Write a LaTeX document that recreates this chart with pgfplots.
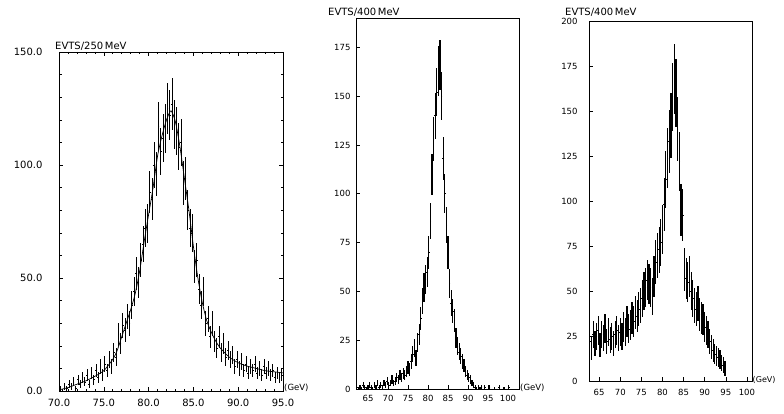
\documentclass[border=0pt]{standalone}
\usepackage{fontspec}
\setmainfont{DejaVu Sans}
\usepackage{pgfplots}
\usepackage{pgfplotstable}
\pgfplotsset{compat=1.18}

% panel 1: 250 MeV bins, x / counts / error
\pgfplotstableread[row sep=\\]{
x y e \\
70.125 1 1 \\ 70.375 0 1 \\ 70.625 2 1.4 \\ 70.875 1 1 \\ 71.125 3 1.7 \\
71.375 2 1.4 \\ 71.625 4 2 \\ 71.875 1 1 \\ 72.125 5 2.2 \\ 72.375 3 1.7 \\
72.625 6 2.4 \\ 72.875 4 2 \\ 73.125 7 2.6 \\ 73.375 3 1.7 \\ 73.625 8 2.8 \\
73.875 5 2.2 \\ 74.125 9 3 \\ 74.375 6 2.4 \\ 74.625 11 3.3 \\ 74.875 7 2.6 \\
75.125 12 3.5 \\ 75.375 9 3 \\ 75.625 14 3.7 \\ 75.875 11 3.3 \\ 76.125 17 4.1 \\
76.375 15 3.9 \\ 76.625 25 5 \\ 76.875 21 4.6 \\ 77.125 29 5.4 \\ 77.375 27 5.2 \\
77.625 33 5.7 \\ 77.875 30 5.5 \\ 78.125 38 6.2 \\ 78.375 44 6.6 \\ 78.625 52 7.2 \\
78.875 48 6.9 \\ 79.125 58 7.6 \\ 79.375 65 8.1 \\ 79.625 72 8.5 \\ 79.875 74 8.6 \\
80.125 88 9.4 \\ 80.375 85 9.2 \\ 80.625 100 10 \\ 80.875 96 9.8 \\ 81.125 117 10.8 \\
81.375 106 10.3 \\ 81.625 112 10.6 \\ 81.875 116 10.8 \\ 82.125 125 11.2 \\ 82.375 122 11 \\
82.625 127 11.3 \\ 82.875 118 10.9 \\ 83.125 115 10.7 \\ 83.375 108 10.4 \\ 83.625 110 10.5 \\
83.875 92 9.6 \\ 84.125 94 9.7 \\ 84.375 80 8.9 \\ 84.625 72 8.5 \\ 84.875 70 8.4 \\
85.125 55 7.4 \\ 85.375 58 7.6 \\ 85.625 45 6.7 \\ 85.875 38 6.2 \\ 86.125 44 6.6 \\
86.375 30 5.5 \\ 86.625 32 5.7 \\ 86.875 24 4.9 \\ 87.125 30 5.5 \\ 87.375 22 4.7 \\
87.625 19 4.4 \\ 87.875 24 4.9 \\ 88.125 17 4.1 \\ 88.375 21 4.6 \\ 88.625 15 3.9 \\
88.875 18 4.2 \\ 89.125 14 3.7 \\ 89.375 16 4 \\ 89.625 11 3.3 \\ 89.875 14 3.7 \\
90.125 10 3.2 \\ 90.375 13 3.6 \\ 90.625 9 3 \\ 90.875 12 3.5 \\ 91.125 8 2.8 \\
91.375 11 3.3 \\ 91.625 9 3 \\ 91.875 12 3.5 \\ 92.125 8 2.8 \\ 92.375 10 3.2 \\
92.625 7 2.6 \\ 92.875 11 3.3 \\ 93.125 8 2.8 \\ 93.375 10 3.2 \\ 93.625 7 2.6 \\
93.875 9 3 \\ 94.125 6 2.4 \\ 94.375 8 2.8 \\ 94.625 6 2.4 \\ 94.875 7 2.6 \\
}\histA

% panel 2: 400 MeV bins
\pgfplotstableread[row sep=\\]{
x y e \\
62.2 1 1 \\ 62.6 0 1 \\ 63.0 1 1 \\ 63.4 0 1 \\ 63.8 2 1.4 \\
64.2 1 1 \\ 64.6 0 1 \\ 65.0 1 1 \\ 65.4 2 1.4 \\ 65.8 1 1 \\
66.2 0 1 \\ 66.6 2 1.4 \\ 67.0 1 1 \\ 67.4 3 1.7 \\ 67.8 1 1 \\
68.2 2 1.4 \\ 68.6 1 1 \\ 69.0 3 1.7 \\ 69.4 2 1.4 \\ 69.8 4 2 \\
70.2 2 1.4 \\ 70.6 3 1.7 \\ 71.0 5 2.2 \\ 71.4 3 1.7 \\ 71.8 4 2 \\
72.2 6 2.4 \\ 72.6 5 2.2 \\ 73.0 7 2.6 \\ 73.4 6 2.4 \\ 73.8 8 2.8 \\
74.2 7 2.6 \\ 74.6 9 3 \\ 75.0 11 3.3 \\ 75.4 10 3.2 \\ 75.8 14 3.7 \\
76.2 18 4.2 \\ 76.6 21 4.6 \\ 77.0 16 4 \\ 77.4 24 4.9 \\ 77.8 28 5.3 \\
78.2 36 6 \\ 78.6 45 6.7 \\ 79.0 52 7.2 \\ 79.4 56 7.5 \\ 79.8 60 7.7 \\
80.2 70 8.4 \\ 80.6 86 9.3 \\ 81.0 110 10.5 \\ 81.4 128 11.3 \\ 81.8 140 11.8 \\
82.2 152 12.3 \\ 82.6 163 12.8 \\ 83.0 166 12.9 \\ 83.4 150 12.2 \\ 83.8 118 10.9 \\
84.2 100 10 \\ 84.6 84 9.2 \\ 85.0 70 8.4 \\ 85.4 54 7.3 \\ 85.8 44 6.6 \\
86.2 40 6.3 \\ 86.6 35 5.9 \\ 87.0 26 5.1 \\ 87.4 22 4.7 \\ 87.8 19 4.4 \\
88.2 17 4.1 \\ 88.6 14 3.7 \\ 89.0 12 3.5 \\ 89.4 9 3 \\ 89.8 7 2.6 \\
90.2 6 2.4 \\ 90.6 5 2.2 \\ 91.0 3 1.7 \\ 91.4 2 1.4 \\ 91.8 1 1 \\
92.2 0 1 \\ 92.6 1 1 \\ 93.0 0 1 \\ 93.4 1 1 \\ 94.2 1 1 \\
95.4 1 1 \\ 96.6 0 1 \\ 97.8 1 1 \\ 99.0 0 1 \\ 100.2 1 1 \\
}\histB

% panel 3: 400 MeV bins
\pgfplotstableread[row sep=\\]{
x y e \\
62.8 22 7 \\ 63.2 18 6.4 \\ 63.6 26 7.6 \\ 64.0 21 6.9 \\ 64.4 25 7.5 \\
64.8 28 7.9 \\ 65.2 20 6.7 \\ 65.6 26 7.6 \\ 66.0 24 7.3 \\ 66.4 29 8.1 \\
66.8 22 7 \\ 67.2 27 7.8 \\ 67.6 23 7.2 \\ 68.0 25 7.5 \\ 68.4 21 6.9 \\
68.8 26 7.6 \\ 69.2 28 7.9 \\ 69.6 24 7.3 \\ 70.0 27 7.8 \\ 70.4 25 7.5 \\
70.8 30 8.2 \\ 71.2 27 7.8 \\ 71.6 33 8.6 \\ 72.0 29 8.1 \\ 72.4 31 8.4 \\
72.8 35 8.9 \\ 73.2 33 8.6 \\ 73.6 38 9.2 \\ 74.0 36 9 \\ 74.4 40 9.5 \\
74.8 42 9.7 \\ 75.2 46 10.2 \\ 75.6 50 10.6 \\ 76.0 52 10.8 \\ 76.4 56 11.2 \\
76.8 54 11 \\ 77.2 52 10.8 \\ 77.6 47 10.3 \\ 78.0 58 11.4 \\ 78.4 66 12.2 \\
78.8 70 12.5 \\ 79.2 73 12.8 \\ 79.6 77 13.2 \\ 80.0 84 13.7 \\ 80.4 98 14.8 \\
80.8 112 15.9 \\ 81.2 124 16.7 \\ 81.6 133 17.3 \\ 82.0 142 17.9 \\ 82.4 158 18.9 \\
82.8 168 19.4 \\ 83.2 160 19 \\ 83.6 140 17.7 \\ 84.0 122 16.6 \\ 84.4 95 14.6 \\
84.8 92 14.4 \\ 85.2 62 11.8 \\ 85.6 57 11.3 \\ 86.0 55 11.1 \\ 86.4 58 11.4 \\
86.8 50 10.6 \\ 87.2 46 10.2 \\ 87.6 42 9.7 \\ 88.0 40 9.5 \\ 88.4 43 9.8 \\
88.8 37 9.1 \\ 89.2 35 8.9 \\ 89.6 34 8.7 \\ 90.0 30 8.2 \\ 90.4 28 7.9 \\
90.8 26 7.6 \\ 91.2 22 7 \\ 91.6 19 6.5 \\ 92.0 17 6.2 \\ 92.4 15 5.8 \\
92.8 14 5.6 \\ 93.2 13 5.4 \\ 93.6 12 5.2 \\ 94.0 10 4.7 \\ 94.4 9 4.5 \\
94.8 7 4 \\
}\histC

\pgfplotsset{
  oldplot/.style={
    scale only axis, axis line style={line width=0.8pt},
    tick align=inside, tick style={black, line width=0.6pt},
    major tick length=4pt, minor tick length=2.5pt,
    /pgf/number format/assume math mode=true,
  },
  hist/.style={
    black, only marks, mark=-, mark size=0.8pt, mark options={line width=0.6pt},
    error bars/.cd, y dir=both, y explicit, error mark=none,
    error bar style={line width=#1, black},
  },
  hist/.default=0.9pt,
}

\begin{document}
\begin{tikzpicture}
\path[use as bounding box] (0pt,0pt) rectangle (784pt,413pt);

% ---- panel 1
\begin{axis}[oldplot, name=p1, at={(59pt,22pt)}, anchor=south west,
  width=224pt, height=339pt,
  xmin=70, xmax=95, ymin=0, ymax=150,
  xtick={70,75,...,95}, ytick={0,50,100,150},
  minor x tick num=4, minor y tick num=4,
  tick label style={font=\fontsize{10}{10}\selectfont},
  xticklabel style={/pgf/number format/.cd, fixed, fixed zerofill, precision=1},
  yticklabel style={/pgf/number format/.cd, fixed, fixed zerofill, precision=1},
  yticklabel shift=13pt, xticklabel shift=5pt]
\addplot[hist] table[x=x, y=y, y error=e] {\histA};
\addplot[black, line width=0.7pt, smooth, tension=0.4] coordinates {
  (70,0.5) (71,1.5) (72,3) (73,4.5) (74,6.5) (75,9) (76,14) (76.5,18)
  (77,24) (77.5,30) (78,36) (78.5,43) (79,53) (79.5,66) (80,78) (80.5,90)
  (81,104) (81.5,113) (82,120) (82.5,124) (83,119) (83.5,108) (84,94)
  (84.5,80) (85,64) (85.5,50) (86,39) (86.5,31) (87,26) (87.5,22) (88,19)
  (89,15) (90,12.5) (91,11) (92,10) (93,9) (94,8.5) (95,8)};
\end{axis}
\node[anchor=south west, inner sep=0pt, font=\fontsize{10}{10}\selectfont]
  at ([xshift=-4pt,yshift=1pt]p1.north west) {EVTS/250\,MeV};
\node[anchor=west, inner sep=0pt, font=\fontsize{8.5}{8.5}\selectfont]
  at ([xshift=1pt,yshift=3pt]p1.south east) {(GeV)};

% ---- panel 2
\begin{axis}[oldplot, name=p2, at={(356pt,24pt)}, anchor=south west,
  width=163pt, height=371pt,
  xmin=62, xmax=102.75, ymin=0, ymax=190,
  xtick={65,70,...,100}, ytick={0,25,...,175},
  tick pos=left,
  tick label style={font=\fontsize{8.5}{8.5}\selectfont},
  yticklabel shift=2pt, xticklabel shift=3pt]
\addplot[hist=1.2pt] table[x=x, y=y, y error=e] {\histB};
\end{axis}
\node[anchor=south west, inner sep=0pt, font=\fontsize{10}{10}\selectfont]
  at ([xshift=-28pt,yshift=1pt]p2.north west) {EVTS/400\,MeV};
\node[anchor=west, inner sep=0pt, font=\fontsize{8.5}{8.5}\selectfont]
  at ([xshift=1pt,yshift=1pt]p2.south east) {(GeV)};

% ---- panel 3
\begin{axis}[oldplot, name=p3, at={(589pt,32pt)}, anchor=south west,
  width=163pt, height=360pt,
  xmin=62.6, xmax=101.2, ymin=0, ymax=200,
  xtick={65,70,...,100}, ytick={0,25,...,200},
  tick pos=left,
  tick label style={font=\fontsize{8.5}{8.5}\selectfont},
  yticklabel shift=8pt, xticklabel shift=5pt]
\addplot[hist=1.2pt] table[x=x, y=y, y error=e] {\histC};
\end{axis}
\node[anchor=south west, inner sep=0pt, font=\fontsize{10}{10}\selectfont]
  at ([xshift=-24pt,yshift=4pt]p3.north west) {EVTS/400\,MeV};
\node[anchor=west, inner sep=0pt, font=\fontsize{8}{8}\selectfont]
  at ([xshift=0.5pt,yshift=1pt]p3.south east) {(GeV)};
\end{tikzpicture}
\end{document}
